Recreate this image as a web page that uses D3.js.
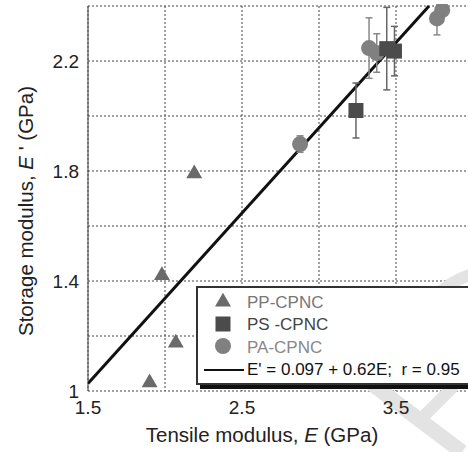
<!DOCTYPE html>
<html lang="en">
<head>
    <meta charset="UTF-8">
    <title>Storage modulus vs tensile modulus</title>
    <script src="https://d3js.org/d3.v7.min.js"></script>
    <style>
        body { margin: 0; background: #fff; }
        svg { display: block; font-family: "Liberation Sans", Arial, sans-serif; }
    </style>
</head>
<body>
    <svg width="468" height="452"></svg>

    <script>
        // PP-CPNC (triangles)
        const ppE = [2.19, 1.98, 2.07, 1.90];
        const ppEs = [1.79, 1.42, 1.175, 1.03];

        // PS-CPNC (squares) with error bars
        const psE = [3.24, 3.44, 3.49];
        const psEs = [2.02, 2.245, 2.236];
        const psErr = [0.10, 0.15, 0.09];

        // PA-CPNC (circles) with error bars
        const paE = [2.877, 3.325, 3.375, 3.766, 3.80];
        const paEs = [1.898, 2.247, 2.229, 2.355, 2.385];
        const paErr = [0.03, 0.11, 0.07, 0.06, 0];

        // regression E' = a + bE
        const regA = 0.097, regB = 0.62;

        const xTicks = [1.5, 2, 2.5, 3, 3.5, 4];
        const xLabels = [1.5, 2.5, 3.5];
        const yTicks = [1, 1.2, 1.4, 1.6, 1.8, 2, 2.2, 2.4];
        const yLabels = [1, 1.4, 1.8, 2.2];

        const legendNames = ["PP-CPNC", "PS -CPNC", "PA-CPNC"];

        const width = 468, height = 452;
        const mLeft = 88, mBottom = 391, mTop = 6;

        const x = d3.scaleLinear().domain([1.5, 4]).range([mLeft, mLeft + 385]);
        const y = d3.scaleLinear().domain([1, 2.4]).range([mBottom, mTop]);

        const svg = d3.select("svg");

        svg.append("defs").append("clipPath").attr("id", "plot")
            .append("rect").attr("x", mLeft).attr("y", mTop - 2)
            .attr("width", width - mLeft).attr("height", mBottom - mTop + 2);

        // grid
        const grid = svg.append("g").attr("stroke", "#444").attr("stroke-width", 1)
            .attr("stroke-dasharray", "2,2");
        grid.selectAll(".gx").data(xTicks).join("line")
            .attr("x1", d => x(d)).attr("x2", d => x(d))
            .attr("y1", mTop).attr("y2", mBottom);
        grid.selectAll(".gy").data(yTicks).join("line")
            .attr("x1", mLeft).attr("x2", width)
            .attr("y1", d => y(d)).attr("y2", d => y(d));

        svg.append("line").attr("x1", mLeft).attr("x2", mLeft)
            .attr("y1", mTop).attr("y2", mBottom)
            .attr("stroke", "#555").attr("stroke-width", 1.2);

        // watermark
        const wm = svg.append("g").attr("fill", "none").attr("stroke", "#e3e3e3")
            .attr("stroke-linecap", "butt");
        wm.append("path").attr("d", "M372,384 L462,452").attr("stroke-width", 15);
        wm.append("path").attr("d", "M454,386 L416,424").attr("stroke-width", 12);
        wm.append("path").attr("d", "M438,294 Q452,281 470,275").attr("stroke-width", 12);

        // tick labels
        svg.append("g").attr("font-size", 19).attr("fill", "#222").attr("text-anchor", "middle")
            .selectAll("text").data(xLabels).join("text")
            .attr("x", d => x(d)).attr("y", 414).text(d => d);
        svg.append("g").attr("font-size", 19).attr("fill", "#222").attr("text-anchor", "end")
            .selectAll("text").data(yLabels).join("text")
            .attr("x", 79).attr("y", d => y(d) + 7).text(d => d);

        // axis titles
        const xt = svg.append("text").attr("x", 262).attr("y", 442)
            .attr("text-anchor", "middle").attr("font-size", 20.5).attr("fill", "#222");
        xt.append("tspan").text("Tensile modulus, ");
        xt.append("tspan").attr("font-style", "italic").text("E");
        xt.append("tspan").text(" (GPa)");

        const yt = svg.append("text").attr("transform", "translate(33,211) rotate(-90)")
            .attr("text-anchor", "middle").attr("font-size", 20.5).attr("fill", "#222");
        yt.append("tspan").text("Storage modulus, ");
        yt.append("tspan").attr("font-style", "italic").text("E");
        yt.append("tspan").text(" ' (GPa)");

        const plot = svg.append("g").attr("clip-path", "url(#plot)");

        // regression line
        const eTop = (2.4 - regA) / regB;
        plot.append("line")
            .attr("x1", x(1.5)).attr("y1", y(regA + regB * 1.5))
            .attr("x2", x(eTop)).attr("y2", y(2.4))
            .attr("stroke", "#111").attr("stroke-width", 3);

        function errorBars(xs, ys, es, color) {
            const g = plot.append("g").attr("stroke", color).attr("stroke-width", 1.5);
            xs.forEach((e, i) => {
                if (!es[i]) return;
                const cx = x(e), y0 = y(ys[i] - es[i]), y1 = y(ys[i] + es[i]);
                g.append("line").attr("x1", cx).attr("x2", cx).attr("y1", y0).attr("y2", y1);
                g.append("line").attr("x1", cx - 3.5).attr("x2", cx + 3.5).attr("y1", y0).attr("y2", y0);
                g.append("line").attr("x1", cx - 3.5).attr("x2", cx + 3.5).attr("y1", y1).attr("y2", y1);
            });
        }

        errorBars(paE, paEs, paErr, "#888");
        errorBars(psE, psEs, psErr, "#666");

        const tri = d3.symbol().type(d3.symbolTriangle).size(110);
        const sq = d3.symbol().type(d3.symbolSquare).size(225);

        plot.append("g").selectAll("circle").data(paE).join("circle")
            .attr("cx", d => x(d)).attr("cy", (d, i) => y(paEs[i])).attr("r", 8)
            .attr("fill", "#808080");
        plot.append("g").selectAll("path").data(psE).join("path")
            .attr("d", sq).attr("fill", "#4b4b4b")
            .attr("transform", (d, i) => `translate(${x(d)},${y(psEs[i])})`);
        plot.append("g").selectAll("path").data(ppE).join("path")
            .attr("d", tri).attr("fill", "#6a6a6a")
            .attr("transform", (d, i) => `translate(${x(d)},${y(ppEs[i])})`);

        // legend
        const lg = svg.append("g").attr("transform", "translate(197,287)");
        lg.append("rect").attr("x", 3).attr("y", 3).attr("width", 300).attr("height", 99).attr("fill", "#111");
        lg.append("rect").attr("x", 0).attr("y", 0).attr("width", 300).attr("height", 97)
            .attr("fill", "#fff").attr("stroke", "#333").attr("stroke-width", 2);

        lg.append("path").attr("d", tri).attr("fill", "#6a6a6a").attr("transform", "translate(26,15)");
        lg.append("path").attr("d", sq).attr("fill", "#4b4b4b").attr("transform", "translate(26,37)");
        lg.append("circle").attr("cx", 26).attr("cy", 59).attr("r", 8).attr("fill", "#808080");
        lg.append("line").attr("x1", 7).attr("x2", 47).attr("y1", 83).attr("y2", 83)
            .attr("stroke", "#111").attr("stroke-width", 2);

        const legendColors = ["#777", "#444", "#888"];
        lg.selectAll(".lt").data(legendNames).join("text")
            .attr("x", 50).attr("y", (d, i) => 21 + i * 22.3)
            .attr("font-size", 17).attr("fill", (d, i) => legendColors[i]).text(d => d);
        lg.append("text").attr("x", 50).attr("y", 88).attr("font-size", 17).attr("fill", "#111")
            .attr("xml:space", "preserve")
            .text(`E' = ${regA} + ${regB}E;  r = 0.95`);
    </script>
</body>
</html>
